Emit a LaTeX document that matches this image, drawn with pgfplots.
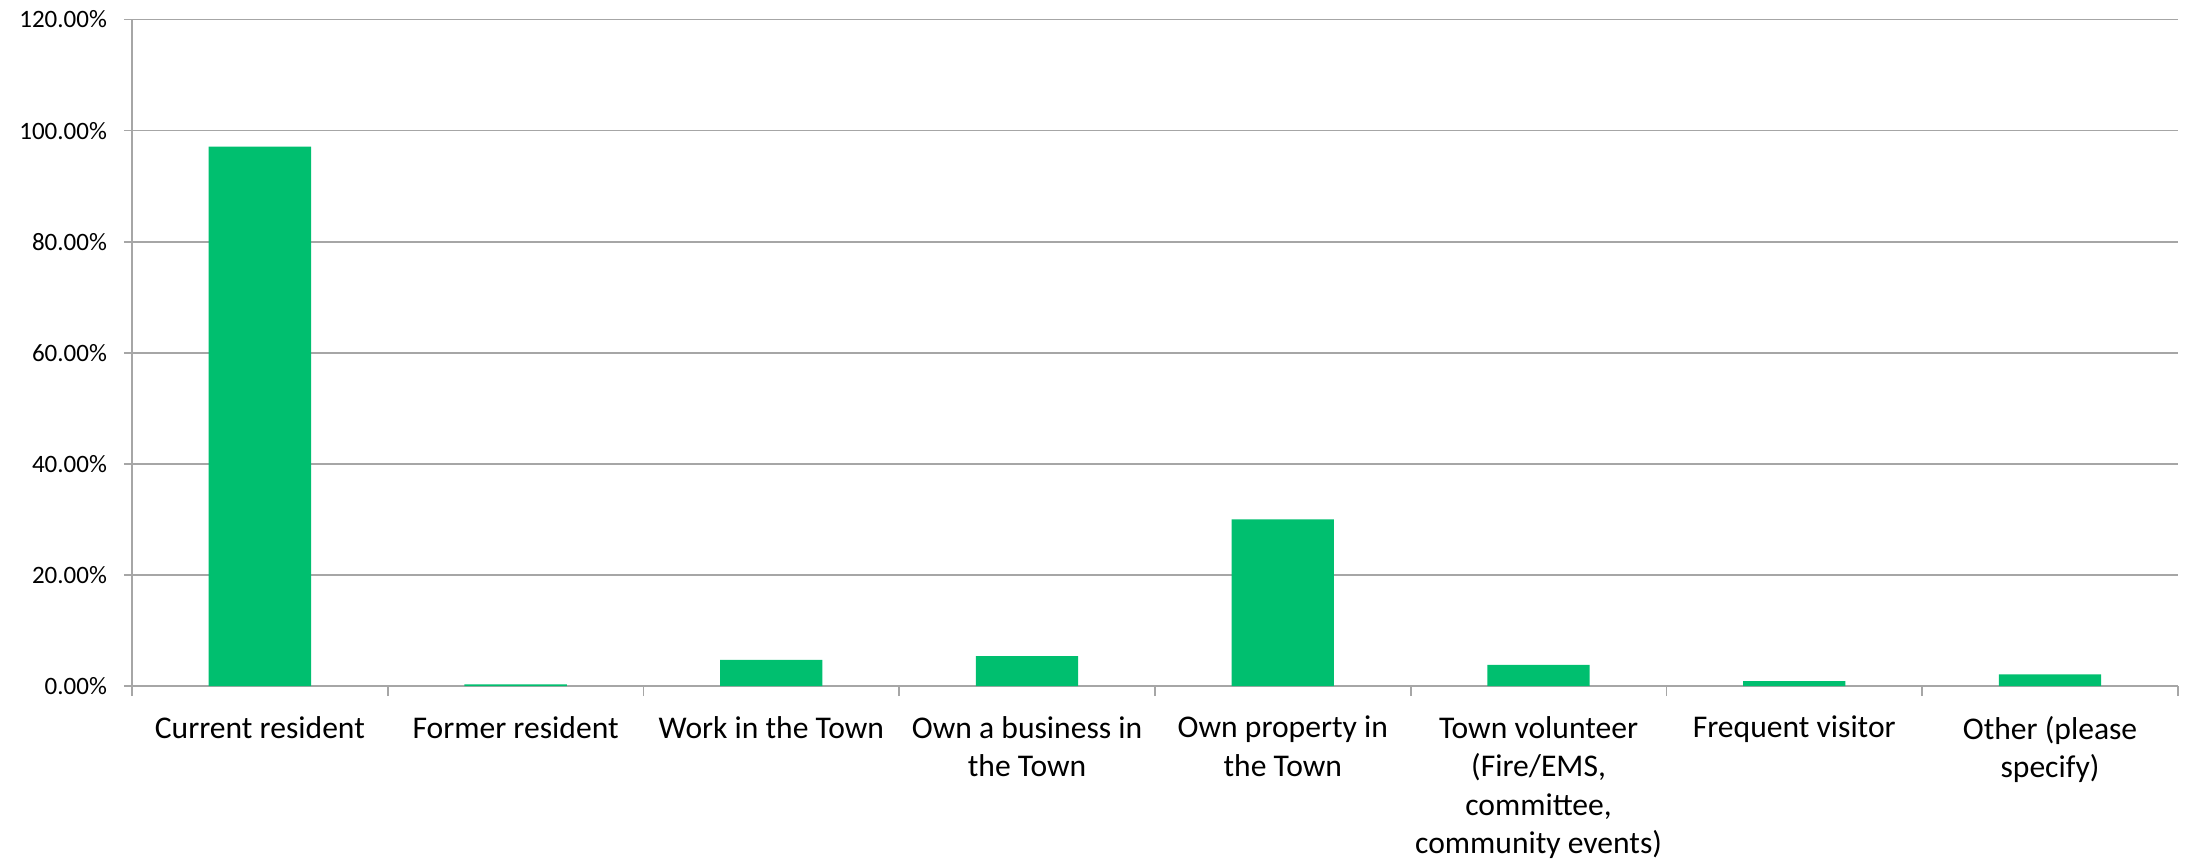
\documentclass[border=0pt]{standalone}
\usepackage{pgfplots}
\pgfplotsset{compat=1.18}
\usepackage{fontspec}
\setmainfont{Carlito}
\definecolor{bargreen}{HTML}{00BF6F}
\definecolor{gridc}{HTML}{A6A6A6}
\begin{document}
\begin{tikzpicture}
\begin{axis}[
  at={(0,0)}, anchor=south west,
  width=1023pt, height=333.25pt, scale only axis,
  xmin=0, xmax=8, ymin=0, ymax=120,
  enlargelimits=false,
  axis x line*=bottom, axis y line*=left,
  axis line style={gridc, line width=0.9pt},
  ymajorgrids, grid style={gridc, line width=0.9pt},
  ytick={0,20,...,120},
  yticklabels={0.00\%,20.00\%,40.00\%,60.00\%,80.00\%,100.00\%,120.00\%},
  xtick={0.5,1.5,...,7.5},
  xticklabels={Current resident, Former resident, Work in the Town, {Own a business in\\the Town}, {Own property in\\the Town}, {Town volunteer\\(Fire/EMS,\\committee,\\community events)}, Frequent visitor, {Other (please\\specify)}},
  minor xtick={0,1,...,8},
  tick align=outside,
  major tick length=4pt, minor tick length=5pt,
  tick style={gridc, line width=0.9pt},
  major x tick style={draw=none},
  yticklabel style={font=\fontsize{12.5}{15}\selectfont, text=black, xshift=-5pt},
  xticklabel style={font=\fontsize{15.8}{19.3}\selectfont, align=center, text=black, yshift=-7.5pt},
  ybar, bar width=0.4,
]
\addplot[fill=bargreen, draw=none] coordinates {(0.5,97.1) (1.5,0.3) (2.5,4.7) (3.5,5.4) (4.5,30.0) (5.5,3.8) (6.5,0.9) (7.5,2.1)};
\end{axis}
\pgfresetboundingbox
\path[use as bounding box] (-66pt,-88.5pt) rectangle (1026.5pt,343pt);
\end{tikzpicture}
\end{document}
